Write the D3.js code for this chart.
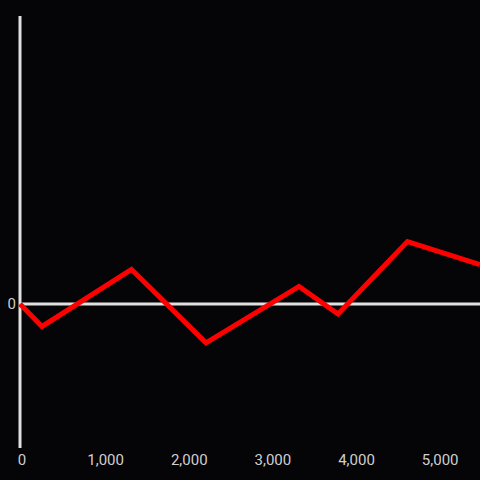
<!DOCTYPE html>
<html><head><meta charset="utf-8">
<script src="https://cdn.jsdelivr.net/npm/d3@7"></script>
<style>html,body{margin:0;padding:0;background:#050407;}svg{display:block;}</style>
</head><body>
<script>
const xValues = [0, 263, 1333, 2224, 3336, 3802, 4633, 5500];
const yValues = [0, -7.8, 12.0, -13.5, 6.1, -3.5, 21.7, 13.7];
const xTicks = [0, 1000, 2000, 3000, 4000, 5000];
const yTicks = [0];

const W = 480, H = 480;
const svg = d3.select("body").append("svg").attr("width", W).attr("height", H);
svg.append("rect").attr("width", W).attr("height", H).attr("fill", "#050407");

const x = d3.scaleLinear().domain([0, 5500]).range([20, 480]);
const y = d3.scaleLinear().domain([-50, 100]).range([448, 16]);
const fmt = d3.format(",");

// y axis line
svg.append("line").attr("x1", x(0)).attr("x2", x(0)).attr("y1", y(100)).attr("y2", y(-50))
  .attr("stroke", "#e0e0e0").attr("stroke-width", 3);
// zero line
svg.append("line").attr("x1", x(0)).attr("x2", x(5500)).attr("y1", y(0)).attr("y2", y(0))
  .attr("stroke", "#e0e0e0").attr("stroke-width", 3);

svg.selectAll("text.xt").data(xTicks).join("text").attr("class", "xt")
  .attr("x", d => x(d) + (d === 0 ? 2 : 2)).attr("y", 461)
  .attr("text-anchor", "middle").attr("dominant-baseline", "middle")
  .attr("font-family", "Roboto, sans-serif").attr("font-size", 15).attr("fill", "#cfcfcf")
  .text(d => fmt(d));

svg.selectAll("text.yt").data(yTicks).join("text").attr("class", "yt")
  .attr("x", 16).attr("y", y(0) + 1)
  .attr("text-anchor", "end").attr("dominant-baseline", "middle")
  .attr("font-family", "Roboto, sans-serif").attr("font-size", 15).attr("fill", "#cfcfcf")
  .text(d => d);

const line = d3.line().x((d, i) => x(xValues[i])).y(d => y(d));
svg.append("path").datum(yValues).attr("d", line)
  .attr("fill", "none").attr("stroke", "#ff0000").attr("stroke-width", 5)
  .attr("stroke-linejoin", "miter");
</script>
</body></html>
